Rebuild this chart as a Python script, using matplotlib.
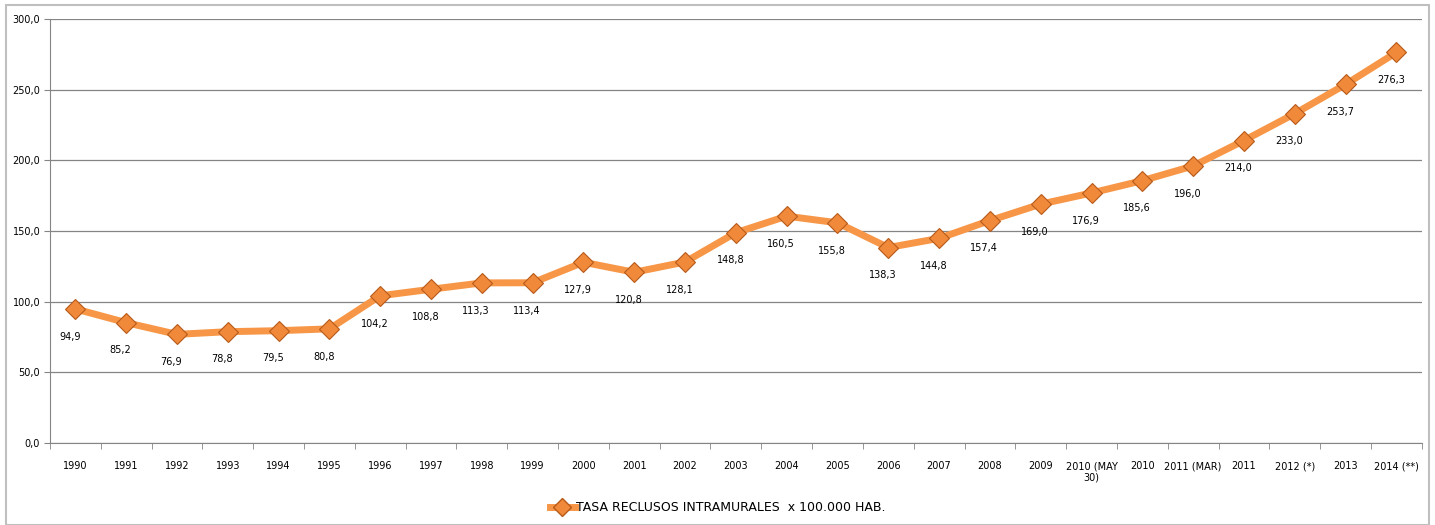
import matplotlib.pyplot as plt
import numpy as np
from matplotlib.lines import Line2D

categories = ["1990", "1991", "1992", "1993", "1994", "1995", "1996", "1997", "1998", "1999",
              "2000", "2001", "2002", "2003", "2004", "2005", "2006", "2007", "2008", "2009",
              "2010 (MAY\n30)", "2010", "2011 (MAR)", "2011", "2012 (*)", "2013", "2014 (**)"]
values = [94.9, 85.2, 76.9, 78.8, 79.5, 80.8, 104.2, 108.8, 113.3, 113.4,
          127.9, 120.8, 128.1, 148.8, 160.5, 155.8, 138.3, 144.8, 157.4, 169.0,
          176.9, 185.6, 196.0, 214.0, 233.0, 253.7, 276.3]
yticks = [0, 50, 100, 150, 200, 250, 300]
series_name = "TASA RECLUSOS INTRAMURALES  x 100.000 HAB."

plt.rcParams['font.family'] = ['Liberation Sans Narrow', 'DejaVu Sans']

fig = plt.figure(figsize=(14.35, 5.25), dpi=100)
ax = fig.add_axes([0.0348, 0.156, 0.956, 0.808])

# chart frame
fig.patches.append(plt.Rectangle((0.004, 0.0), 0.992, 0.99, transform=fig.transFigure,
                                 fill=False, edgecolor="#bfbfbf", linewidth=1.5))

x = np.arange(len(categories))
line_col = "#f79646"
ax.plot(x, values, color=line_col, linewidth=5, zorder=3,
        marker="D", markersize=10, markerfacecolor="#f0893a",
        markeredgecolor="#b85a1a", markeredgewidth=0.8)

for xi, v in zip(x, values):
    ax.annotate(f"{v:.1f}".replace(".", ","), (xi, v), xytext=(-4, -20),
                textcoords="offset points", ha="center", va="center", fontsize=7)

ax.set_xlim(-0.5, len(categories) - 0.5)
ax.set_ylim(0, 300)
ax.set_yticks(yticks)
ax.set_yticklabels([f"{t:.1f}".replace(".", ",") for t in yticks], fontsize=7)
ax.yaxis.grid(True, color="#858585", linewidth=0.9)
ax.set_axisbelow(True)

ax.set_xticks(x)
ax.set_xticklabels(categories, fontsize=7, va="top")
ax.tick_params(axis="x", length=0, pad=13)
ax.set_xticks(np.arange(-0.5, len(categories)), minor=True)
ax.tick_params(axis="x", which="minor", length=4, color="#858585")
ax.tick_params(axis="y", length=4, color="#858585", pad=3)

for s in ["top", "right"]:
    ax.spines[s].set_visible(False)
for s in ["left", "bottom"]:
    ax.spines[s].set_color("#858585")

handle = Line2D([0], [0], color=line_col, linewidth=5, marker="D", markersize=9,
                markerfacecolor="#f0893a", markeredgecolor="#b85a1a")
fig.legend([handle], [series_name], loc="center", bbox_to_anchor=(0.5, 0.033),
           frameon=False, fontsize=9, handlelength=2.0, handletextpad=0.1)

fig.savefig("out.png", dpi=100)
